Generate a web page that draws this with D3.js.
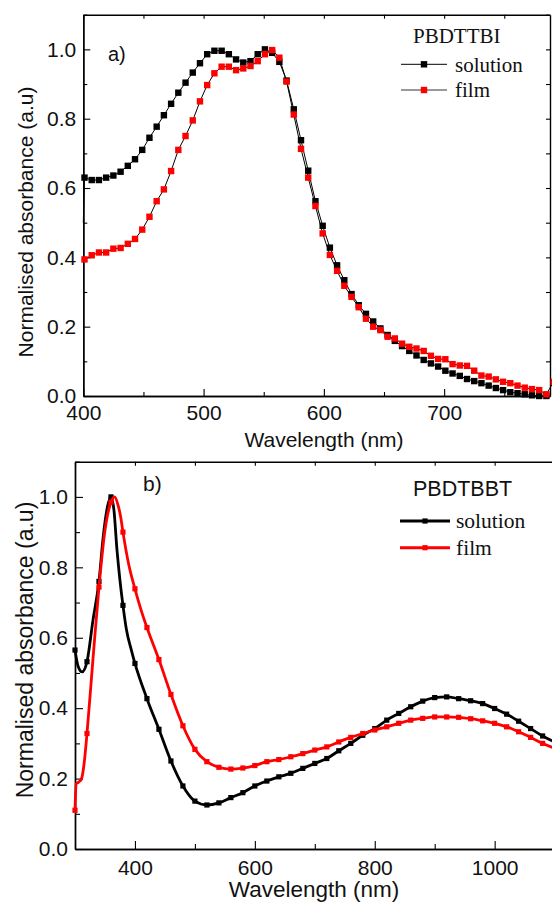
<!DOCTYPE html>
<html>
<head>
<meta charset="utf-8">
<script src="https://cdn.jsdelivr.net/npm/d3@7"></script>
<style>
html,body{margin:0;padding:0;background:#fff;}
svg{display:block;}
</style>
</head>
<body>
<svg id="chart" width="552" height="903"></svg>
<script>
// ---------- Panel a) PBDTTBI ----------
const topWavelengths = [401,407,413,419,425,431,437,443,449,455,461,467,473,479,485,491,497,503,509,515,521,527,533,539,545,551,557,563,569,575,581,587,593,599,605,611,617,623,629,635,641,647,653,659,665,671,677,683,689,695,701,707,713,719,725,731,737,743,749,755,761,767,773,779,785];
const topSolution = [0.630,0.623,0.623,0.630,0.636,0.647,0.664,0.683,0.710,0.745,0.777,0.810,0.843,0.875,0.904,0.933,0.960,0.986,0.996,0.996,0.986,0.971,0.962,0.966,0.986,1.000,0.990,0.964,0.910,0.827,0.738,0.650,0.562,0.491,0.428,0.377,0.334,0.294,0.262,0.237,0.215,0.195,0.176,0.159,0.144,0.130,0.117,0.104,0.094,0.085,0.073,0.065,0.058,0.049,0.043,0.037,0.030,0.023,0.017,0.011,0.008,0.005,0.002,0.000,0.000];
const topFilm = [0.394,0.406,0.414,0.414,0.425,0.427,0.439,0.453,0.480,0.517,0.562,0.596,0.649,0.710,0.750,0.795,0.850,0.897,0.931,0.950,0.950,0.940,0.945,0.952,0.966,0.986,0.998,0.976,0.907,0.812,0.713,0.630,0.548,0.469,0.407,0.361,0.318,0.286,0.256,0.223,0.200,0.190,0.171,0.166,0.151,0.142,0.137,0.130,0.116,0.107,0.106,0.092,0.088,0.087,0.073,0.059,0.056,0.048,0.041,0.037,0.030,0.024,0.020,0.017,0.005];
const topSolutionStart = [400, 0.50];   // line-only start point
const topFilmEnd = [791, 0.041];        // last film point (at the right frame)
const topXTicks = [400,500,600,700];
const topXMinor = [450,550,650,750];
const topYTicks = [0,0.2,0.4,0.6,0.8,1.0];
const topYMinor = [0.1,0.3,0.5,0.7,0.9,1.1];

// ---------- Panel b) PBDTBBT ----------
const botSolWl = [300,305,312,320,330,340,347,354,360,365,370,375,380,386,394,400,420,440,460,480,500,520,540,560,580,600,620,640,660,680,700,720,740,760,780,800,820,840,860,880,900,920,940,960,980,1000,1020,1040,1060,1080,1100];
const botSolution = [0.565,0.520,0.503,0.532,0.650,0.760,0.886,0.971,1.000,0.962,0.850,0.763,0.692,0.621,0.565,0.527,0.427,0.340,0.250,0.179,0.136,0.125,0.131,0.146,0.160,0.179,0.193,0.205,0.215,0.229,0.243,0.257,0.279,0.300,0.323,0.342,0.366,0.385,0.404,0.420,0.430,0.432,0.427,0.421,0.413,0.399,0.383,0.363,0.342,0.321,0.304];
const botFilmWl = [300,302,306,311,315,320,330,340,350,360,366,372,376,380,390,400,410,420,440,460,480,500,520,540,560,580,600,620,640,660,680,700,720,740,760,780,800,820,840,860,880,900,920,940,960,980,1000,1020,1040,1060,1080,1100];
const botFilm = [0.110,0.185,0.190,0.200,0.240,0.328,0.540,0.744,0.905,0.985,1.000,0.975,0.945,0.900,0.805,0.739,0.680,0.629,0.538,0.439,0.350,0.283,0.248,0.232,0.227,0.230,0.237,0.248,0.254,0.262,0.271,0.281,0.290,0.304,0.317,0.328,0.338,0.347,0.357,0.366,0.371,0.375,0.375,0.374,0.370,0.364,0.357,0.347,0.333,0.317,0.300,0.286];
const botXTicks = [400,600,800,1000];
const botXMinor = [300,500,700,900,1100];
const botYTicks = [0,0.2,0.4,0.6,0.8,1.0];
const botYMinor = [0.1,0.3,0.5,0.7,0.9,1.1];

const legendLabels = ["solution","film"];
const seriesColors = ["#000000","#ff0000"];

const svg = d3.select("#chart");
const SANS = "'Liberation Sans', Arial, Helvetica, sans-serif";
const SERIF = "'Liberation Serif', 'Times New Roman', serif";

// scales
const xT = d3.scaleLinear().domain([400,788]).range([83.3,550]);
const yT = d3.scaleLinear().domain([0,1.1]).range([396,14.7]);
const xB = d3.scaleLinear().domain([300,1100]).range([75,554.6]);
const yB = d3.scaleLinear().domain([0,1.1]).range([849,461.7]);

function styleAxis(g, fs){
  g.select(".domain").attr("stroke","#000").attr("stroke-width",1.4);
  g.selectAll(".tick line").attr("stroke","#000").attr("stroke-width",1.1);
  g.selectAll(".tick text").attr("fill","#111").style("font-family",SANS).style("font-size",fs+"px");
}

function drawAxes(x, y, o){
  const [x0,x1] = x.range(); const [y0,y1] = y.range();
  let g = svg.append("g").attr("transform",`translate(0,${y0})`)
    .call(d3.axisBottom(x).tickValues(o.xt).tickFormat(d3.format("d")).tickSize(-o.maj).tickPadding(o.xpad).tickSizeOuter(0));
  styleAxis(g, o.fs);
  g = svg.append("g").attr("transform",`translate(0,${y0})`)
    .call(d3.axisBottom(x).tickValues(o.xm).tickFormat("").tickSize(-o.min).tickSizeOuter(0));
  styleAxis(g, o.fs);
  g = svg.append("g").attr("transform",`translate(${x0},0)`)
    .call(d3.axisLeft(y).tickValues(o.yt).tickFormat(d3.format(".1f")).tickSize(-o.maj).tickPadding(o.ypad).tickSizeOuter(0));
  styleAxis(g, o.fs);
  g = svg.append("g").attr("transform",`translate(${x0},0)`)
    .call(d3.axisLeft(y).tickValues(o.ym).tickFormat("").tickSize(-o.min).tickSizeOuter(0));
  styleAxis(g, o.fs);
  g = svg.append("g").attr("transform",`translate(0,${y1})`)
    .call(d3.axisTop(x).tickValues(o.xt.concat(o.xm)).tickFormat("").tickSize(-o.top).tickSizeOuter(0));
  styleAxis(g, o.fs);
  if (o.right){
    g = svg.append("g").attr("transform",`translate(${x1},0)`)
      .call(d3.axisRight(y).tickValues(o.yt.concat(o.ym)).tickFormat("").tickSize(-o.top).tickSizeOuter(0));
    styleAxis(g, o.fs);
  }
}

// ================= Panel a =================
drawAxes(xT, yT, {xt:topXTicks, xm:topXMinor, yt:topYTicks, ym:topYMinor, maj:7, min:4, top:4, xpad:9, ypad:7, fs:21, right:true});

const lineT = d3.line().x(d=>xT(d[0])).y(d=>yT(d[1]));
const solPtsT = topWavelengths.map((w,i)=>[w, topSolution[i]]);
const filmPtsT = topWavelengths.map((w,i)=>[w, topFilm[i]]).concat([topFilmEnd]);

svg.append("path").datum([topSolutionStart].concat(solPtsT)).attr("d",lineT)
  .attr("fill","none").attr("stroke","#000").attr("stroke-width",1);
svg.append("g").selectAll("rect").data(solPtsT).join("rect")
  .attr("x",d=>xT(d[0])-3.2).attr("y",d=>yT(d[1])-3.2).attr("width",6.4).attr("height",6.4)
  .attr("fill","#000");
svg.append("path").datum(filmPtsT).attr("d",lineT)
  .attr("fill","none").attr("stroke","#000").attr("stroke-width",1);
svg.append("g").selectAll("rect").data(filmPtsT).join("rect")
  .attr("x",d=>xT(d[0])-3.2).attr("y",d=>yT(d[1])-3.2).attr("width",6.4).attr("height",6.4)
  .attr("fill","#ff0000");

svg.append("text").attr("x",324).attr("y",447).attr("text-anchor","middle")
  .style("font-family",SANS).style("font-size","21px").attr("fill","#111").text("Wavelength (nm)");
svg.append("text").attr("transform","translate(33,222) rotate(-90)").attr("text-anchor","middle")
  .style("font-family",SANS).style("font-size","21px").attr("fill","#111").text("Normalised absorbance (a.u)");
svg.append("text").attr("x",108).attr("y",61)
  .style("font-family",SANS).style("font-size","20px").attr("fill","#111").text("a)");

svg.append("text").attr("x",413).attr("y",43)
  .style("font-family",SERIF).style("font-size","21px").attr("fill","#111").text("PBDTTBI");
legendLabels.forEach((lab,i)=>{
  const ly = 64.3 + i*25.7;
  svg.append("line").attr("x1",401).attr("x2",447).attr("y1",ly).attr("y2",ly)
    .attr("stroke", i===0 ? "#000" : "#333").attr("stroke-width",1);
  svg.append("rect").attr("x",424-3.2).attr("y",ly-3.2).attr("width",6.4).attr("height",6.4).attr("fill",seriesColors[i]);
  svg.append("text").attr("x",455).attr("y",ly+7.4)
    .style("font-family",SERIF).style("font-size","21px").attr("fill","#111").text(lab);
});

// ================= Panel b =================
drawAxes(xB, yB, {xt:botXTicks, xm:botXMinor, yt:botYTicks, ym:botYMinor, maj:8, min:5, top:4, xpad:11, ypad:7, fs:21, right:false});

const lineB = d3.line().x(d=>xB(d[0])).y(d=>yB(d[1])).curve(d3.curveMonotoneX);
const solPtsB = botSolWl.map((w,i)=>[w, botSolution[i]]);
const filmPtsB = botFilmWl.map((w,i)=>[w, botFilm[i]]);
[[solPtsB, seriesColors[0]],[filmPtsB, seriesColors[1]]].forEach(([pts,c])=>{
  svg.append("path").datum(pts).attr("d",lineB)
    .attr("fill","none").attr("stroke",c).attr("stroke-width",2.8).attr("stroke-linejoin","round");
  svg.append("g").selectAll("rect").data(pts.filter(d=>d[0]%20===0)).join("rect")
    .attr("x",d=>xB(d[0])-2.6).attr("y",d=>yB(d[1])-2.6).attr("width",5.2).attr("height",5.2)
    .attr("fill",c);
});

svg.append("text").attr("x",314).attr("y",897).attr("text-anchor","middle")
  .style("font-family",SANS).style("font-size","22.5px").attr("fill","#111").text("Wavelength (nm)");
svg.append("text").attr("transform","translate(33,650) rotate(-90)").attr("text-anchor","middle")
  .style("font-family",SANS).style("font-size","23px").attr("fill","#111").text("Normalised absorbance (a.u)");
svg.append("text").attr("x",143).attr("y",491)
  .style("font-family",SANS).style("font-size","21px").attr("fill","#111").text("b)");

svg.append("text").attr("x",413).attr("y",496)
  .style("font-family",SANS).style("font-size","21.5px").attr("fill","#111").text("PBDTBBT");
legendLabels.forEach((lab,i)=>{
  const ly = 521 + i*26.7;
  svg.append("line").attr("x1",400).attr("x2",450).attr("y1",ly).attr("y2",ly)
    .attr("stroke",seriesColors[i]).attr("stroke-width",3);
  svg.append("rect").attr("x",425-2.6).attr("y",ly-2.6).attr("width",5.2).attr("height",5.2).attr("fill",seriesColors[i]);
  svg.append("text").attr("x",456).attr("y",ly+7.3)
    .style("font-family",SERIF).style("font-size","21.5px").attr("fill","#111").text(lab);
});
</script>
</body>
</html>
